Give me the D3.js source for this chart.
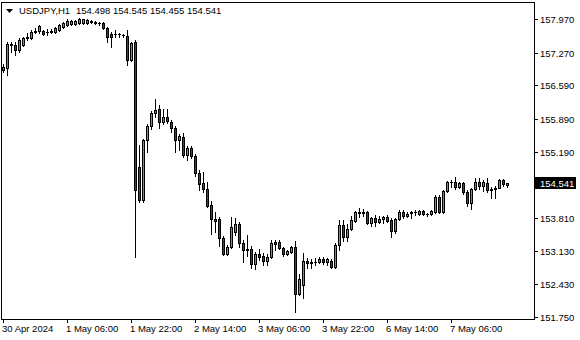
<!DOCTYPE html>
<html>
<head>
<meta charset="utf-8">
<script src="https://cdn.jsdelivr.net/npm/d3@7"></script>
<style>
  body { margin: 0; background: #fff; }
  text { font-family: "Liberation Sans", Arial, sans-serif; font-size: 9.5px; fill: #000; }
</style>
</head>
<body>
<div id="chart"></div>
<script>
// USDJPY H1 candles
const symbol = "USDJPY,H1";

const open = [
  156.91, 156.95, 157.45, 157.43, 157.32, 157.43, 157.60, 157.57, 157.70, 157.71,
  157.72, 157.70, 157.69, 157.70, 157.74, 157.80, 157.85, 157.87, 157.87, 157.89,
  157.88, 157.89, 157.92, 157.91, 157.89, 157.89, 157.78, 157.66, 157.66, 157.66,
  157.64, 157.62, 157.12, 157.49, 154.88, 154.19, 155.44, 155.74, 156.01, 156.09,
  155.82, 155.93, 155.83, 155.70, 155.44, 155.51, 155.13, 155.28, 155.11, 154.76,
  154.55, 154.42, 154.09, 153.80, 153.80, 153.40, 153.06, 153.21, 153.52, 153.69,
  153.29, 153.17, 153.17, 152.86, 153.06, 153.02, 152.92, 153.00, 153.32, 153.32,
  153.19, 153.06, 153.11, 153.21, 152.23, 152.42, 152.92, 152.89, 152.90, 152.90,
  152.96, 152.90, 152.92, 152.79, 153.25, 153.67, 153.42, 153.59, 153.75, 153.94,
  153.94, 153.94, 153.71, 153.82, 153.73, 153.80, 153.84, 153.78, 153.55, 153.80,
  153.94, 153.86, 153.93, 153.94, 153.90, 153.96, 153.90, 153.90, 153.94, 154.26,
  153.94, 154.38, 154.57, 154.57, 154.46, 154.55, 154.36, 154.13, 154.42, 154.57,
  154.48, 154.55, 154.42, 154.43, 154.44, 154.61, 154.498
];
const high = [
  157.03, 157.49, 157.49, 157.49, 157.57, 157.60, 157.68, 157.74, 157.78, 157.85,
  157.74, 157.76, 157.76, 157.80, 157.87, 157.91, 157.97, 157.95, 157.95, 157.99,
  157.98, 157.97, 157.95, 157.93, 157.91, 157.91, 157.80, 157.70, 157.74, 157.68,
  157.66, 157.74, 157.49, 157.53, 155.34, 155.47, 155.78, 156.05, 156.30, 156.18,
  156.09, 156.09, 155.86, 155.74, 155.57, 155.59, 155.32, 155.32, 155.15, 154.82,
  154.78, 154.57, 154.17, 153.94, 153.84, 153.44, 153.25, 153.84, 153.82, 153.73,
  153.36, 153.46, 153.23, 153.11, 153.17, 153.09, 153.06, 153.36, 153.35, 153.36,
  153.21, 153.15, 153.23, 153.34, 152.65, 153.09, 152.98, 152.96, 152.98, 153.00,
  153.00, 152.98, 152.96, 153.29, 153.78, 153.78, 153.69, 153.86, 153.96, 154.03,
  154.00, 153.96, 153.84, 153.88, 153.86, 153.86, 153.88, 153.82, 153.82, 153.98,
  153.98, 153.94, 153.96, 153.98, 153.98, 153.98, 153.92, 153.98, 154.30, 154.30,
  154.40, 154.59, 154.60, 154.67, 154.57, 154.57, 154.40, 154.44, 154.65, 154.65,
  154.61, 154.65, 154.46, 154.48, 154.62, 154.62, 154.545
];
const low = [
  156.86, 156.80, 157.28, 157.22, 157.28, 157.41, 157.53, 157.55, 157.68, 157.68,
  157.64, 157.64, 157.68, 157.68, 157.72, 157.78, 157.83, 157.85, 157.85, 157.87,
  157.87, 157.87, 157.89, 157.87, 157.85, 157.76, 157.49, 157.39, 157.60, 157.60,
  157.60, 157.01, 157.09, 153.00, 154.15, 154.15, 155.19, 155.67, 155.93, 155.70,
  155.78, 155.80, 155.61, 155.19, 155.24, 155.09, 155.03, 155.07, 154.69, 154.40,
  154.36, 154.05, 153.48, 153.52, 153.23, 153.04, 153.04, 153.19, 153.46, 153.21,
  152.90, 153.02, 152.77, 152.75, 152.94, 152.83, 152.83, 152.98, 153.15, 153.17,
  153.02, 153.04, 153.09, 151.86, 152.21, 152.15, 152.77, 152.77, 152.83, 152.88,
  152.86, 152.83, 152.77, 152.77, 153.15, 153.34, 153.34, 153.57, 153.73, 153.84,
  153.86, 153.69, 153.65, 153.65, 153.71, 153.71, 153.73, 153.42, 153.50, 153.78,
  153.82, 153.84, 153.82, 153.88, 153.88, 153.88, 153.86, 153.88, 153.93, 153.92,
  153.93, 154.36, 154.46, 154.42, 154.44, 154.32, 154.07, 154.00, 154.40, 154.42,
  154.38, 154.36, 154.23, 154.23, 154.44, 154.48, 154.455
];
const close = [
  156.97, 157.45, 157.43, 157.32, 157.54, 157.57, 157.58, 157.70, 157.72, 157.82,
  157.66, 157.69, 157.72, 157.78, 157.85, 157.89, 157.93, 157.93, 157.92, 157.96,
  157.96, 157.95, 157.91, 157.89, 157.88, 157.78, 157.60, 157.60, 157.65, 157.65,
  157.63, 157.12, 157.47, 154.40, 154.19, 155.44, 155.74, 156.01, 156.08, 155.82,
  155.93, 155.84, 155.70, 155.44, 155.53, 155.13, 155.28, 155.11, 154.76, 154.53,
  154.42, 154.07, 153.80, 153.76, 153.40, 153.06, 153.21, 153.63, 153.69, 153.29,
  153.15, 153.15, 152.86, 153.06, 153.00, 152.92, 153.00, 153.29, 153.27, 153.19,
  153.06, 153.13, 153.21, 152.23, 152.54, 152.92, 152.88, 152.88, 152.89, 152.96,
  152.90, 152.96, 152.79, 153.25, 153.67, 153.42, 153.59, 153.78, 153.94, 153.93,
  153.93, 153.71, 153.82, 153.73, 153.80, 153.84, 153.75, 153.55, 153.80, 153.94,
  153.86, 153.91, 153.94, 153.95, 153.96, 153.90, 153.89, 153.96, 154.26, 153.94,
  154.38, 154.57, 154.56, 154.47, 154.55, 154.36, 154.13, 154.42, 154.57, 154.48,
  154.57, 154.40, 154.41, 154.44, 154.61, 154.53, 154.541
];

// price scale labels
const yTickLabels = ["157.970", "157.270", "156.590", "155.890", "155.190", "153.810", "153.130", "152.430", "151.750"];
// time labels, one every 16 bars
const xTickLabels = ["30 Apr 2024", "1 May 06:00", "1 May 22:00", "2 May 14:00", "3 May 06:00", "3 May 22:00", "6 May 14:00", "7 May 06:00"];
const xTickSlots = [0, 16, 32, 48, 64, 80, 96, 112];

var width = 580;
var height = 340;
var frame = { left: 1, top: 2, right: 534, bottom: 319 };
var upColor = "#3cb83c";
var downColor = "#e00000";

var svg = d3.select("#chart").append("svg")
  .attr("width", width)
  .attr("height", height);

// bar index -> left edge of the bar's centre pixel column
var x = d3.scaleLinear().domain([0, open.length - 1]).range([3, 3 + 4 * (open.length - 1)]);
var y = d3.scaleLinear().domain([151.75, 157.97]).range([317, 19]);

// frame
svg.append("rect")
  .attr("x", frame.left + 0.5).attr("y", frame.top + 0.5)
  .attr("width", frame.right - frame.left).attr("height", frame.bottom - frame.top)
  .attr("fill", "none").attr("stroke", "#000");

// price axis
var yt = svg.append("g");
yTickLabels.forEach(function(lbl) {
  var py = Math.round(y(+lbl));
  yt.append("line")
    .attr("x1", frame.right).attr("x2", frame.right + 4)
    .attr("y1", py + 0.5).attr("y2", py + 0.5)
    .attr("stroke", "#000");
  yt.append("text").attr("x", 540).attr("y", py + 4).text(lbl);
});

// time axis
var xt = svg.append("g");
xTickLabels.forEach(function(lbl, i) {
  var px = Math.round(x(xTickSlots[i]));
  xt.append("line")
    .attr("x1", px + 0.5).attr("x2", px + 0.5)
    .attr("y1", frame.bottom).attr("y2", frame.bottom + 4)
    .attr("stroke", "#000");
  xt.append("text").attr("x", px - 1).attr("y", 332).text(lbl);
});

// candles
var bars = d3.range(open.length).map(function(i) {
  return { i: i, o: open[i], h: high[i], l: low[i], c: close[i] };
});

var g = svg.append("g");

g.selectAll(".wick")
  .data(bars)
  .enter()
  .append("line")
  .attr("class", "wick")
  .attr("x1", d => x(d.i) + 0.5).attr("x2", d => x(d.i) + 0.5)
  .attr("y1", d => Math.round(y(d.h)))
  .attr("y2", d => Math.round(y(d.l)) + 1)
  .attr("stroke", "#000");

bars.forEach(function(d) {
  var top = Math.round(y(Math.max(d.o, d.c)));
  var bot = Math.round(y(Math.min(d.o, d.c)));
  var cx = x(d.i);
  if (bot - top < 1) {
    g.append("line")
      .attr("x1", cx - 1).attr("x2", cx + 2)
      .attr("y1", top + 0.5).attr("y2", top + 0.5)
      .attr("stroke", "#000");
  } else {
    g.append("rect")
      .attr("x", cx - 0.5).attr("y", top + 0.5)
      .attr("width", 2).attr("height", bot - top)
      .attr("fill", d.c > d.o ? upColor : downColor)
      .attr("stroke", "#000");
  }
});

// last price marker
var last = bars[bars.length - 1];
var ly = Math.round(y(last.c));
svg.append("rect")
  .attr("x", frame.right).attr("y", ly - 6)
  .attr("width", 42).attr("height", 12)
  .attr("fill", "#000");
svg.append("text")
  .attr("x", 540).attr("y", ly + 4)
  .style("fill", "#fff")
  .text(last.c.toFixed(3));

// title
svg.append("path")
  .attr("d", "M6,9L13,9L9.5,13Z")
  .attr("fill", "#000");
svg.append("text").attr("x", 19).attr("y", 14).text(symbol);
svg.append("text").attr("x", 76).attr("y", 14)
  .text([last.o, last.h, last.l, last.c].map(v => v.toFixed(3)).join(" "));
</script>
</body>
</html>
